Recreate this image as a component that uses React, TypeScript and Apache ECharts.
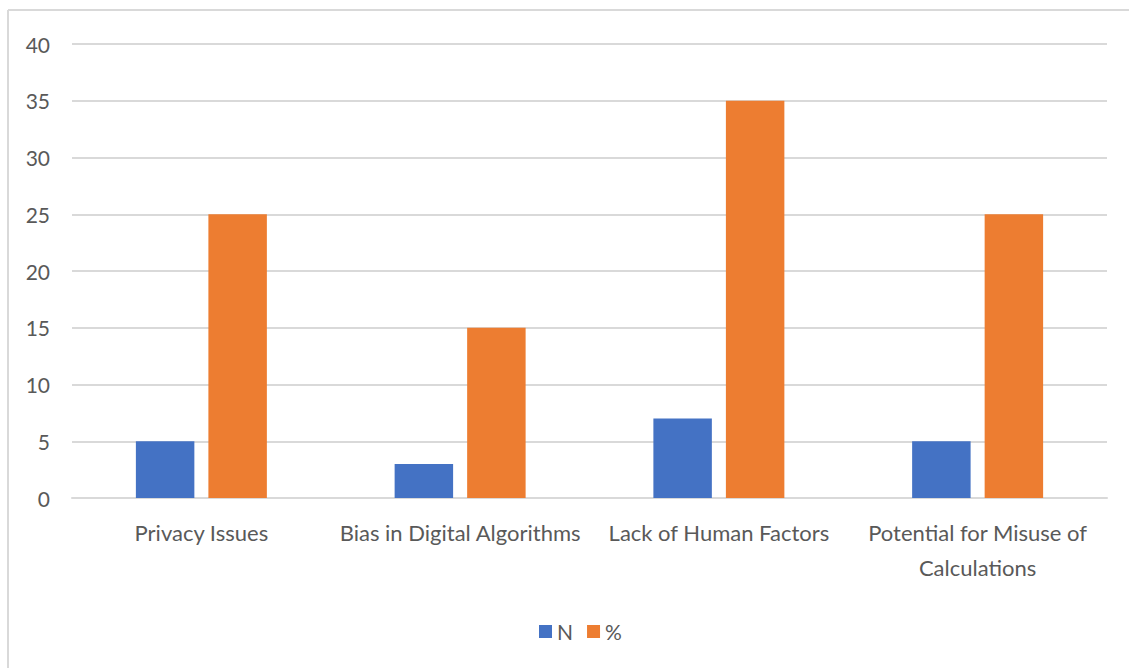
import React, { useEffect, useRef } from "react";
import * as echarts from "echarts";

const categories = [
  "Privacy Issues",
  "Bias in Digital Algorithms",
  "Lack of Human Factors",
  "Potential for Misuse of\nCalculations",
];
const seriesN = [5, 3, 7, 5];
const seriesPct = [25, 15, 35, 25];
const seriesNames = ["N", "%"];

const FONT = "Lato";
const TEXT = "#595959";

export default function App() {
  const ref = useRef<HTMLDivElement>(null);
  useEffect(() => {
    if (!ref.current) return;
    const chart = echarts.init(ref.current, undefined, { renderer: "svg" });
    chart.setOption({
      animation: false,
      backgroundColor: "#ffffff",
      textStyle: { fontFamily: FONT },
      graphic: [
        { type: "line", shape: { x1: 8, y1: 10, x2: 1129, y2: 10 }, style: { stroke: "#d9d9d9", lineWidth: 2 } },
        { type: "line", shape: { x1: 8, y1: 10, x2: 8, y2: 668 }, style: { stroke: "#d9d9d9", lineWidth: 2 } },
      ],
      grid: { left: 72, right: 22, top: 44, bottom: 170, containLabel: false },
      legend: {
        top: 616,
        left: 534,
        itemWidth: 13,
        itemHeight: 13,
        itemGap: 14,
        icon: "rect",
        textStyle: { color: TEXT, fontSize: 21, fontFamily: FONT },
        data: seriesNames,
      },
      xAxis: {
        type: "category",
        data: categories,
        axisLine: { show: true, lineStyle: { color: "#d9d9d9", width: 2 } },
        axisTick: { show: false },
        axisLabel: {
          color: TEXT,
          fontSize: 22,
          fontFamily: FONT,
          margin: 17,
          lineHeight: 35,
          interval: 0,
        },
      },
      yAxis: {
        type: "value",
        min: 0,
        max: 40,
        interval: 5,
        axisLine: { show: false },
        axisTick: { show: false },
        axisLabel: { color: TEXT, fontSize: 21, fontFamily: FONT, margin: 22 },
        splitLine: { lineStyle: { color: "#d9d9d9", width: 2 } },
      },
      series: [
        {
          name: seriesNames[0],
          type: "bar",
          data: seriesN,
          barWidth: "22.6%",
          barGap: "24%",
          itemStyle: { color: "#4472C4" },
        },
        {
          name: seriesNames[1],
          type: "bar",
          data: seriesPct,
          barWidth: "22.6%",
          itemStyle: { color: "#ED7D31" },
        },
      ],
    });
    return () => chart.dispose();
  }, []);
  return <div ref={ref} style={{ width: 1129, height: 668, position: "absolute", left: 0, top: 0 }} />;
}
